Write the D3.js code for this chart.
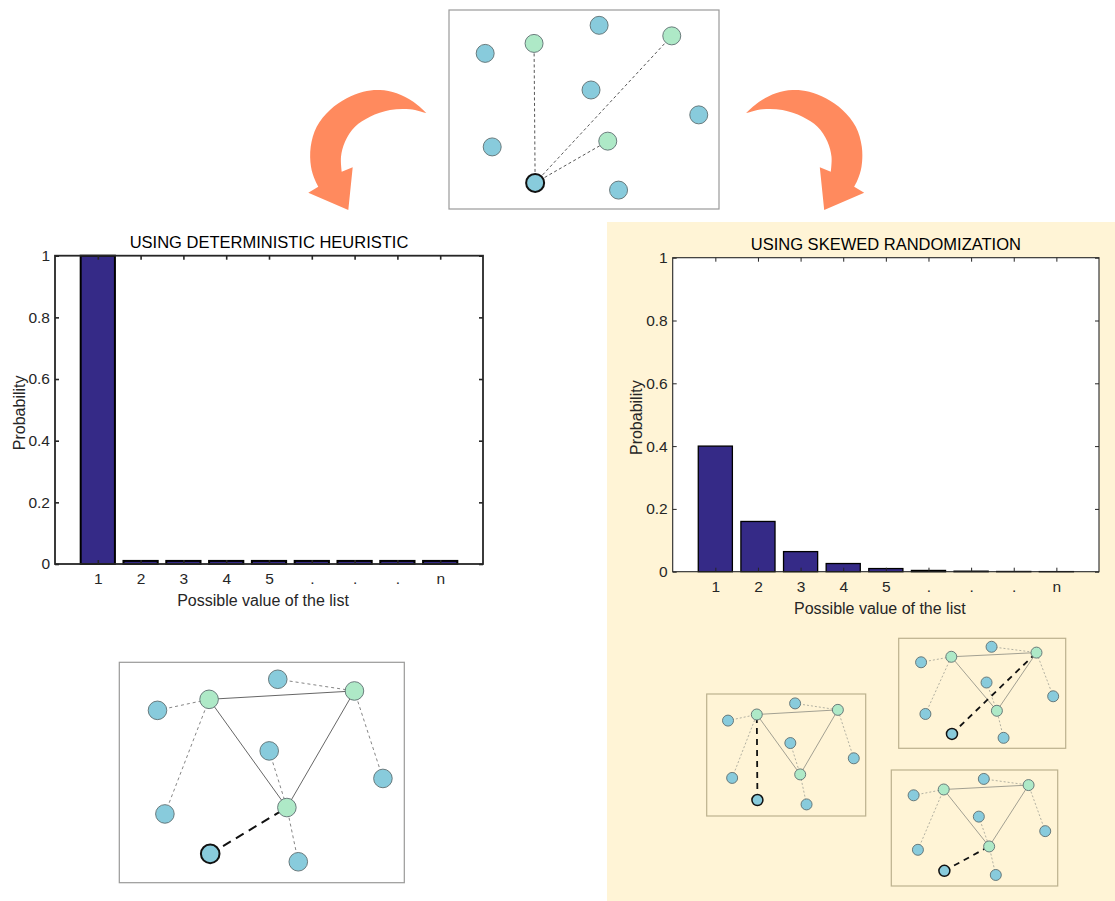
<!DOCTYPE html>
<html><head><meta charset="utf-8">
<script src="https://cdn.jsdelivr.net/npm/d3@7"></script>
<style>body{margin:0;background:#fff}svg{display:block}text{font-family:"Liberation Sans",Arial,sans-serif}</style>
</head><body><svg id="fig" width="1115" height="901"></svg>
<script>
// ---------- data ----------
const categories = ["1","2","3","4","5",".",".",".","n"];
const positions = [1,2,3,4,5,6,7,8,9];
const deterministicProb = [1.0,0.01,0.01,0.01,0.01,0.01,0.01,0.01,0.01];
const skewedProb = [0.40,0.16,0.064,0.026,0.010,0.004,0.0017,0.0007,0.0003];
const yTickValues = [0,0.2,0.4,0.6,0.8,1];
const chartTitles = ["USING DETERMINISTIC HEURISTIC","USING SKEWED RANDOMIZATION"];
const xAxisTitle = "Possible value of the list";
const yAxisTitle = "Probability";

// network diagram (node layout in percent of its frame)
const nodeX = [13.4,31.5,55.6,82.5,52.6,92.5,16.0,58.8,31.9,62.8];
const nodeY = [21.8,16.8,7.7,13.0,40.2,52.7,68.8,65.9,86.9,90.5];
const nodeKind = ["blue","green","blue","green","blue","blue","blue","green","start","blue"];
const solidEdges = [[1,3],[1,7],[3,7]];
const dashedEdges = [[0,1],[6,1],[2,3],[5,3],[4,7],[9,7]];
const startNode = 8;
const candidateNodes = [1,3,7];

const svg = d3.select("#fig");

// ---------- background panel ----------
svg.append("rect").attr("x",607).attr("y",222).attr("width",508).attr("height",679).attr("fill","#fff4d6");

// ---------- curved arrows ----------
const arrowOuter = [[426.7,113.3],[413.3,101.7],[396.7,93.3],[380,90],[363.3,91.7],[346.7,98.3],[330,110],[316.7,126.7],[310.7,146.7],[311,166.7],[315,180],[318.3,186.7]];
const arrowHead = [[308.3,192.7],[348.3,210],[352.7,167.3]];
const arrowInner = [[341.7,171.7],[341,156.7],[345,141.7],[355,126.7],[370,116.7],[390,110],[410,109.3],[426.7,113.3]];
const curve = d3.line().curve(d3.curveCatmullRom.alpha(0.5));
const arrowD = curve(arrowOuter) + "L" + arrowHead.map(p=>p.join(",")).join("L") + "L" + curve(arrowInner).slice(1) + "Z";
svg.append("path").attr("d",arrowD).attr("fill","#ff8a5e");
svg.append("path").attr("d",arrowD).attr("fill","#ff8a5e").attr("transform","translate(1172.5,0) scale(-1,1)");

// ---------- networks ----------
function network(box, opts){
  const g = svg.append("g");
  const sx = d3.scaleLinear().domain([0,100]).range([box.x, box.x+box.w]);
  const sy = d3.scaleLinear().domain([0,100]).range([box.y, box.y+box.h]);
  g.append("rect").attr("x",box.x).attr("y",box.y).attr("width",box.w).attr("height",box.h)
    .attr("fill",opts.bg).attr("stroke",opts.frame).attr("stroke-width",opts.frameW);
  const line = (e)=>g.append("line").attr("x1",sx(nodeX[e[0]])).attr("y1",sy(nodeY[e[0]]))
    .attr("x2",sx(nodeX[e[1]])).attr("y2",sy(nodeY[e[1]]));
  if (opts.tree){
    solidEdges.forEach(e=>line(e).attr("stroke",opts.solid).attr("stroke-width",opts.edgeW));
    dashedEdges.forEach(e=>line(e).attr("stroke",opts.dashed).attr("stroke-width",opts.edgeW).attr("stroke-dasharray",opts.dash));
  }
  opts.targets.forEach(t=>{
    const l = line([startNode,t]);
    if (opts.bold) l.attr("stroke","#111").attr("stroke-width",opts.boldW).attr("stroke-dasharray",opts.boldDash);
    else l.attr("stroke","#444").attr("stroke-width",0.9).attr("stroke-dasharray","3,2.5");
  });
  nodeX.forEach((x,i)=>{
    const k = nodeKind[i];
    g.append("circle").attr("cx",sx(x)).attr("cy",sy(nodeY[i])).attr("r",opts.r)
      .attr("fill", k==="green" ? "#aee9c7" : "#88cbdc")
      .attr("stroke", k==="start" ? "#111" : "#5d6e70")
      .attr("stroke-width", k==="start" ? opts.startW : 0.9);
  });
}
network({x:449,y:10,w:270,h:199},{bg:"#fff",frame:"#9a9a9a",frameW:1.2,r:9,startW:2,tree:false,bold:false,targets:candidateNodes});
network({x:119.3,y:662.3,w:285,h:220.4},{bg:"#fff",frame:"#9a9a98",frameW:1.2,r:9.3,startW:2,tree:true,solid:"#555",dashed:"#777",edgeW:0.9,dash:"3,3",bold:true,boldW:2,boldDash:"9,6",targets:[7]});
const smallOpts = {bg:"none",frame:"#bcb18e",frameW:1.2,r:5.5,startW:1.5,tree:true,solid:"#8a8a80",dashed:"#a09f94",edgeW:0.8,dash:"2,2",bold:true,boldW:1.8,boldDash:"6,5"};
network({x:706.7,y:694,w:159,h:122}, Object.assign({},smallOpts,{targets:[1]}));
network({x:898.7,y:638.3,w:167,h:110}, Object.assign({},smallOpts,{targets:[3]}));
network({x:891.3,y:770,w:166.4,h:116}, Object.assign({},smallOpts,{targets:[7]}));

// ---------- bar charts ----------
function barChart(b, values, title, lw){
  const g = svg.append("g");
  const x = d3.scaleLinear().domain([0,10]).range([b.x0,b.x1]);
  const y = d3.scaleLinear().domain([0,1]).range([b.y1,b.y0]);
  const col = "#262626";
  g.append("rect").attr("x",b.x0).attr("y",b.y0).attr("width",b.x1-b.x0).attr("height",b.y1-b.y0).attr("fill","#fff");
  g.selectAll("rect.bar").data(values).join("rect").attr("class","bar")
    .attr("x",(d,i)=>x(positions[i]-0.4)).attr("width",x(0.8)-x(0))
    .attr("y",d=>y(d)).attr("height",d=>y(0)-y(d))
    .attr("fill","#352a87").attr("stroke","#000").attr("stroke-width",lw);
  const styleAxis = (a)=>{ a.select(".domain").remove(); a.selectAll("line").attr("stroke",col).attr("stroke-width",lw>1.5?1.6:1);
    a.selectAll("text").attr("fill",col).style("font-size","15.5px").style("font-family","'Liberation Sans',Arial,sans-serif"); };
  g.append("g").attr("transform",`translate(0,${b.y1})`)
    .call(d3.axisBottom(x).tickValues(positions).tickFormat((d,i)=>categories[i]).tickSize(-4).tickSizeOuter(0).tickPadding(9)).call(styleAxis);
  g.append("g").attr("transform",`translate(0,${b.y0})`)
    .call(d3.axisTop(x).tickValues(positions).tickFormat("").tickSize(-4).tickSizeOuter(0)).call(styleAxis);
  g.append("g").attr("transform",`translate(${b.x0},0)`)
    .call(d3.axisLeft(y).tickValues(yTickValues).tickFormat(d3.format("~g")).tickSize(-4).tickSizeOuter(0).tickPadding(5)).call(styleAxis);
  g.append("g").attr("transform",`translate(${b.x1},0)`)
    .call(d3.axisRight(y).tickValues(yTickValues).tickFormat("").tickSize(-4).tickSizeOuter(0)).call(styleAxis);
  g.append("rect").attr("x",b.x0).attr("y",b.y0).attr("width",b.x1-b.x0).attr("height",b.y1-b.y0)
    .attr("fill","none").attr("stroke",col).attr("stroke-width",lw>1.5?1.8:1.1);
  const cx = (b.x0+b.x1)/2, cy = (b.y0+b.y1)/2;
  g.append("text").attr("x",cx).attr("y",b.y0-8).attr("text-anchor","middle").attr("fill","#000").style("font-size","16.5px").text(title);
  g.append("text").attr("x",cx-6).attr("y",b.y1+42).attr("text-anchor","middle").attr("fill",col).style("font-size","16px").text(xAxisTitle);
  g.append("text").attr("transform",`translate(${b.x0-36},${cy+3}) rotate(-90)`).attr("dy","0.35em").attr("text-anchor","middle").attr("fill",col).style("font-size","16px").text(yAxisTitle);
}
barChart({x0:55,x1:483,y0:255.7,y1:564}, deterministicProb, chartTitles[0], 2);
barChart({x0:672.7,x1:1099,y0:257.7,y1:571.7}, skewedProb, chartTitles[1], 1.3);
</script></body></html>
